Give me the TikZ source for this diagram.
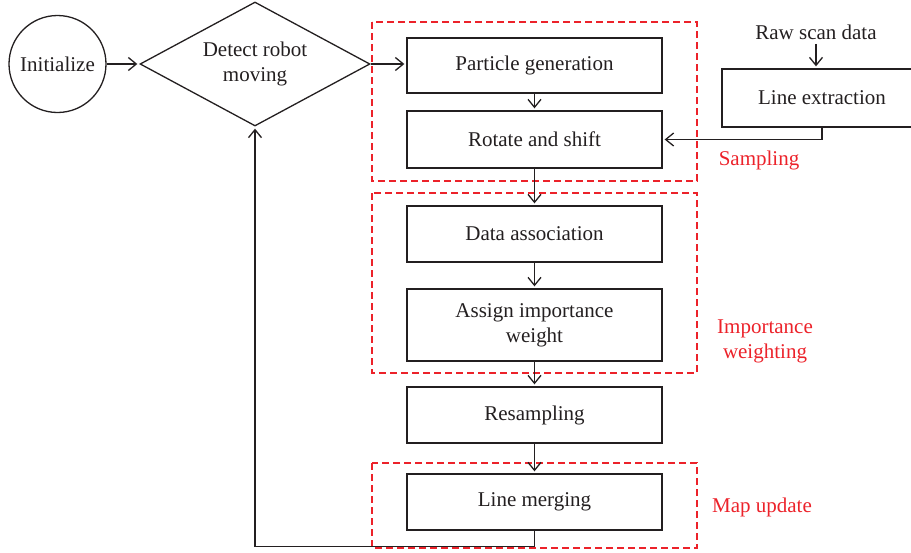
\documentclass[tikz,border=0pt]{standalone}
\usepackage{fontspec}
\setmainfont{Liberation Serif}
\usetikzlibrary{shapes.geometric,arrows.meta}
\definecolor{ink}{RGB}{35,31,32}
\definecolor{lblred}{RGB}{236,34,42}
\begin{document}
\begin{tikzpicture}[x=1pt,y=-1pt,
  every node/.style={font=\fontsize{21}{25}\selectfont, text=ink, align=center},
  stepbox/.style={draw=ink, line width=1.3pt, minimum width=255pt, minimum height=56pt, inner sep=0pt},
  arr/.style={draw=ink, line width=1.3pt, -{Straight Barb[length=8pt,width=13pt,line width=1.3pt]}, shorten >=2pt},
  group/.style={draw=lblred, line width=1.3pt, dash pattern=on 7pt off 4pt},
  lbl/.style={text=lblred}
]
\useasboundingbox (0,0) rectangle (911,552);
\clip (0,0) rectangle (911,552);

% groups
\draw[group] (372,22) rectangle (697,181);
\draw[group] (372,193) rectangle (697,373);
\draw[group] (372,463) rectangle (697,548);

% nodes
\node[circle, draw=ink, line width=1.3pt, minimum size=97pt, inner sep=0pt] (init) at (57.5,64) {Initialize};
\node[diamond, draw=ink, line width=1.3pt, minimum width=230pt, minimum height=124pt, aspect=1.85, inner sep=0pt] (det) at (255,64) {\raisebox{-3pt}{\begin{tabular}{@{}c@{}}Detect robot\\moving\end{tabular}}};
\node[stepbox, minimum height=55pt] (pg) at (534.5,65.5) {\raisebox{-2pt}{Particle generation}};
\node[stepbox, minimum height=57pt] (rs) at (534.5,139.5) {Rotate and shift};
\node[stepbox] (da) at (534.5,234) {\raisebox{-2pt}{Data association}};
\node[stepbox, minimum height=72pt] (aiw) at (534.5,325) {Assign importance\\weight};
\node[stepbox] (res) at (534.5,415) {Resampling};
\node[stepbox] (lm) at (534.5,502) {Line merging};
\node[stepbox, minimum width=200pt, minimum height=58pt] (le) at (822,98) {Line extraction};
\node (raw) at (816,32) {Raw scan data};

\node[lbl] (ls) at (759,160) {Sampling};
\node[lbl] (li) at (765,341) {Importance\\weighting};
\node[lbl] (lmu) at (762,507) {Map update};

% connectors
\draw[arr] (init) -- (det);
\draw[arr] (det.east) -- (det.east -| pg.west);
\draw[arr] (pg) -- (rs);
\draw[arr] (rs) -- (da);
\draw[arr] (da) -- (aiw);
\draw[arr] (aiw) -- (res);
\draw[arr] (res) -- (lm);
\draw[arr] (raw.south -| 816,0) ++(0,1) coordinate (rawb) -- (rawb |- le.north);
\draw[arr] (le.south) |- (rs.east);
\draw[arr] (lm.south) -- ++(0,16) -| (det.south);
\end{tikzpicture}
\end{document}
